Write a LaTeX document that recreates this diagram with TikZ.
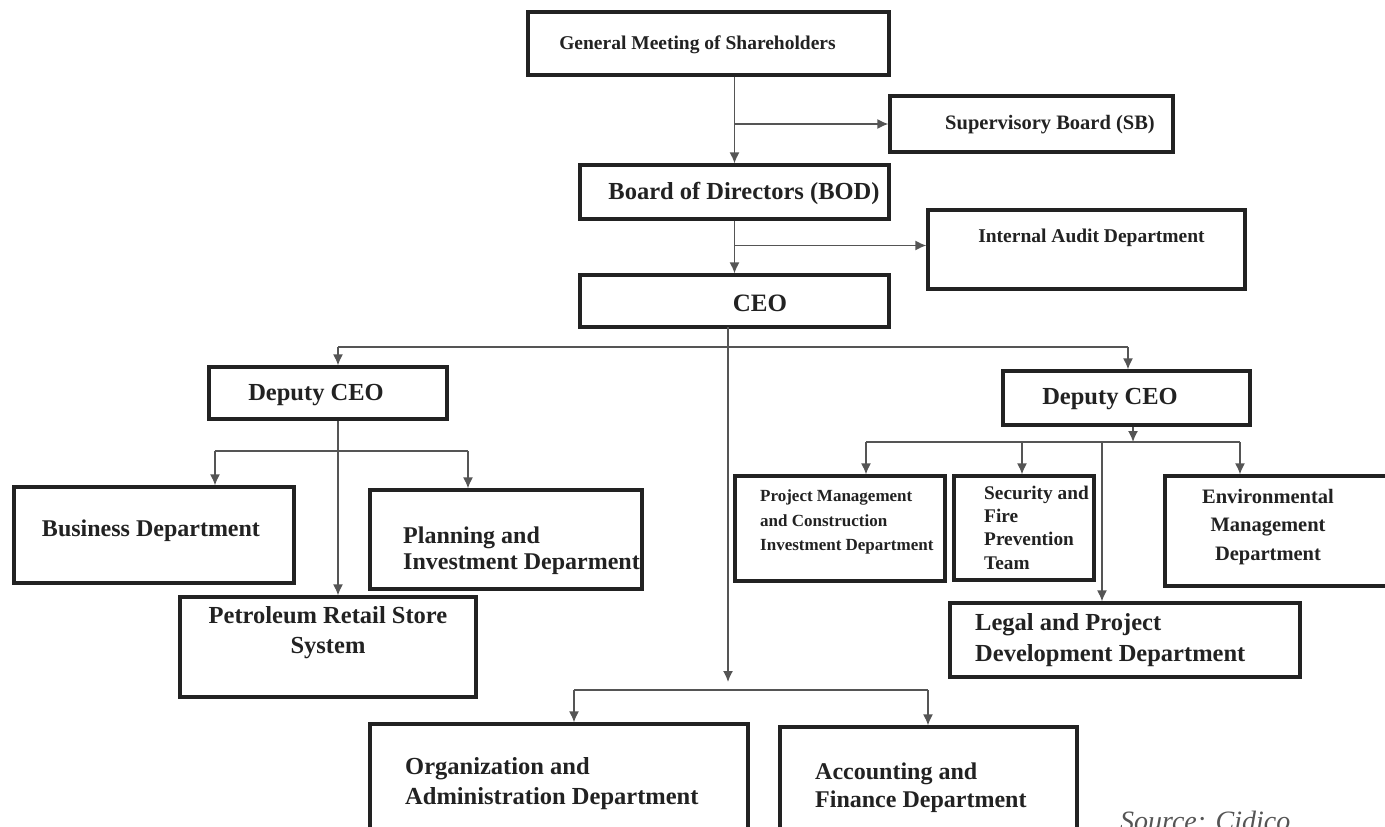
\documentclass[tikz,border=0pt]{standalone}
\usepackage{fontspec}
\setmainfont{Liberation Serif}
\usetikzlibrary{arrows.meta}
\definecolor{ink}{HTML}{222222}
\definecolor{lineg}{HTML}{555555}
\newcommand{\setfs}[2]{\fontsize{#1}{#2}\selectfont}
\tikzset{
  box/.style={draw=ink, line width=3.2pt, inner sep=0pt},
  conn/.style={draw=lineg, line width=1.6pt},
  arr/.style={conn, -{Latex[length=11pt,width=10pt]}},
  lbl/.style={inner sep=0pt, text=ink},
}
\begin{document}
\begin{tikzpicture}[x=1pt,y=-1pt]
\useasboundingbox (0,0) rectangle (1385,827);
\fill[white] (0,0) rectangle (1385,827);
\clip (0,0) rectangle (1385,827);

% boxes
\node[box, minimum width=361pt, minimum height=63pt] (gms) at (708.5,43.5) {};
\node[box, minimum width=283pt, minimum height=56pt] (sb) at (1031.5,124) {};
\node[box, minimum width=309pt, minimum height=54pt] (bod) at (734.5,192) {};
\node[box, minimum width=317pt, minimum height=79pt] (ia) at (1086.5,249.5) {};
\node[box, minimum width=309pt, minimum height=52pt] (ceo) at (734.5,301) {};
\node[box, minimum width=238pt, minimum height=52pt] (dep1) at (328,393) {};
\node[box, minimum width=247pt, minimum height=54pt] (dep2) at (1126.5,398) {};
\node[box, minimum width=280pt, minimum height=96pt] (bus) at (154,535) {};
\node[box, minimum width=272pt, minimum height=99pt] (plan) at (506,539.5) {};
\node[box, minimum width=296pt, minimum height=100pt] (pet) at (328,647) {};
\node[box, minimum width=210pt, minimum height=105pt] (pm) at (840,528.5) {};
\node[box, minimum width=140pt, minimum height=104pt] (sec) at (1024,528) {};
\node[box, minimum width=230pt, minimum height=110pt] (env) at (1280,531) {};
\node[box, minimum width=350pt, minimum height=74pt] (legal) at (1125,640) {};
\node[box, minimum width=378pt, minimum height=126pt] (org) at (559,787) {};
\node[box, minimum width=297pt, minimum height=123pt] (acc) at (928.5,788.5) {};

% labels
\node[lbl, font=\bfseries\setfs{19.5}{24}] (gms-t) at (697.5,45) {General Meeting of Shareholders};
\node[lbl, font=\bfseries\setfs{20.5}{24}] (sb-t) at (1050,125) {Supervisory Board (SB)};
\node[lbl, font=\bfseries\setfs{24.5}{28}] (bod-t) at (744,193) {Board of Directors (BOD)};
\node[lbl, font=\bfseries\setfs{19.5}{24}] (ia-t) at (1091.5,238) {Internal Audit Department};
\node[lbl, font=\bfseries\setfs{25}{28}] (ceo-t) at (760,303) {CEO};
\node[lbl, font=\bfseries\setfs{24.5}{28}] (dep1-t) at (316,395) {Deputy CEO};
\node[lbl, font=\bfseries\setfs{24.5}{28}] (dep2-t) at (1110,399) {Deputy CEO};
\node[lbl, font=\bfseries\setfs{24}{28}] (bus-t) at (151,531) {Business Department};
\node[lbl, anchor=west, align=left, font=\bfseries\setfs{24}{25.5}] (plan-t) at (403,550.5) {Planning and\\Investment Deparment};
\node[lbl, align=center, font=\bfseries\setfs{24.5}{30}] (pet-t) at (328,633) {Petroleum Retail Store\\System};
\node[lbl, anchor=west, align=left, font=\bfseries\setfs{17}{24.5}] (pm-t) at (760,522) {Project Management\\and Construction\\Investment Department};
\node[lbl, anchor=west, align=left, font=\bfseries\setfs{19.3}{23.3}] (sec-t) at (984,527.5) {Security and\\Fire\\Prevention\\Team};
\node[lbl, align=center, font=\bfseries\setfs{20.5}{28.5}] (env-t) at (1268,527) {Environmental\\Management\\Department};
\node[lbl, anchor=west, align=left, font=\bfseries\setfs{24.5}{31}] (legal-t) at (975,640.5) {Legal and Project\\Development Department};
\node[lbl, anchor=west, align=left, font=\bfseries\setfs{24.5}{30}] (org-t) at (405,784) {Organization and\\Administration Department};
\node[lbl, anchor=west, align=left, font=\bfseries\setfs{24}{28}] (acc-t) at (815,788) {Accounting and\\Finance Department};
\node[lbl, anchor=base west, font=\itshape\setfs{28}{32}, text=lineg] (src) at (1120,830) {Source: Cidico};

% junction coordinates
\coordinate (hl) at (338,347);
\coordinate (hr) at (1128,347);
\coordinate (lbL) at (215,451);
\coordinate (lbR) at (468,451);
\coordinate (rj) at (1133,442);
\coordinate (rbL) at (866,442);
\coordinate (rbM) at (1022,442);
\coordinate (rbV) at (1102,442);
\coordinate (rbR) at (1240,442);
\coordinate (ceodown) at (728,327);
\coordinate (ceoend) at (728,682);
\coordinate (bbL) at (574,690);
\coordinate (bbR) at (928,690);

% connectors
\draw[arr] (gms.south -| bod.north) -- (bod.north);
\draw[arr] (sb.west -| bod.north) -- (sb.west);
\draw[arr] (bod.south) -- (ceo.north);
\draw[arr] ([yshift=4pt]ia.west -| bod.south) -- ([yshift=4pt]ia.west);

\draw[conn] (hl) -- (hr);
\draw[arr] (hl) -- (hl |- dep1.north);
\draw[arr] (hr) -- (hr |- dep2.north);

\draw[arr] (dep1.south -| hl) -- (pet.north -| hl);
\draw[conn] (lbL) -- (lbR);
\draw[arr] (lbL) -- (lbL |- bus.north);
\draw[arr] (lbR) -- (lbR |- plan.north);

\draw[arr] (rj |- dep2.south) -- (rj);
\draw[conn] (rbL) -- (rbR);
\draw[arr] (rbL) -- (rbL |- pm.north);
\draw[arr] (rbM) -- (rbM |- sec.north);
\draw[arr] (rbR) -- (rbR |- env.north);
\draw[arr] (rbV) -- (rbV |- legal.north);

\draw[arr] (ceodown) -- (ceoend);
\draw[conn] (bbL) -- (bbR);
\draw[arr] (bbL) -- (bbL |- org.north);
\draw[arr] (bbR) -- (bbR |- acc.north);
\end{tikzpicture}
\end{document}
